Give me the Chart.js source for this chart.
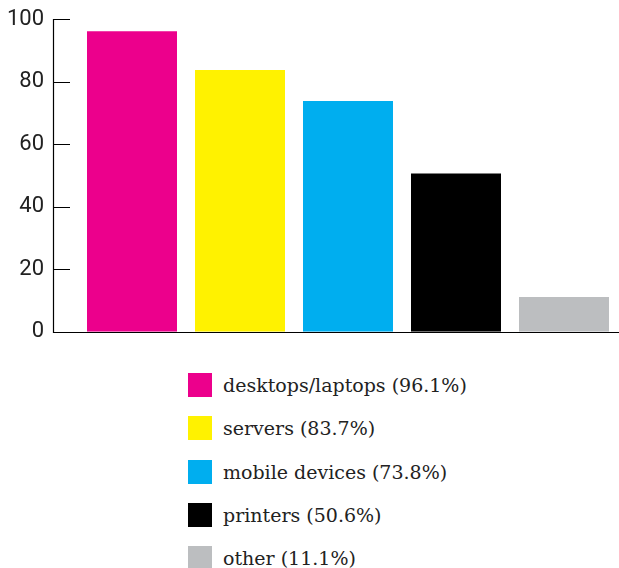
<!DOCTYPE html>
<html>
<head>
<meta charset="utf-8">
<script src="https://cdn.jsdelivr.net/npm/chart.js@4"></script>
<style>
  body { margin: 0; background: #fff; }
  #wrap { position: relative; width: 619px; height: 347px; }
  #legend { list-style: none; margin: 0; padding: 0; position: absolute; left: 188px; top: 373px; }
  #legend li { display: flex; align-items: center; height: 24px; margin-bottom: 19.3px;
    font-family: "DejaVu Serif", serif; font-size: 19px; color: #222; }
  #legend span.box { width: 24px; height: 24px; margin-right: 11px; flex: none; }
</style>
</head>
<body>
<div id="wrap"><canvas id="myChart"></canvas></div>
<ul id="legend"></ul>
<script>
const categories = ["desktops/laptops", "servers", "mobile devices", "printers", "other"];
const values = [96.1, 83.7, 73.8, 50.6, 11.1];
const colors = ["#ec008c", "#fff200", "#00aeef", "#000000", "#bcbec0"];
const yTicks = [0, 20, 40, 60, 80, 100];

// axis lines with ticks pointing inward, like the original
const axisLines = {
  id: "axisLines",
  afterDraw(chart) {
    const ctx = chart.ctx;
    const y = chart.scales.y;
    const x0 = 53.5;
    const yb = Math.round(y.getPixelForValue(0)) + 0.5;
    ctx.save();
    ctx.strokeStyle = "#000";
    ctx.lineWidth = 1.2;
    ctx.beginPath();
    ctx.moveTo(x0, y.getPixelForValue(100));
    ctx.lineTo(x0, yb);
    ctx.lineTo(619, yb);
    yTicks.forEach((t) => {
      if (t === 0) return;
      const py = Math.round(y.getPixelForValue(t)) + 0.5;
      ctx.moveTo(x0, py);
      ctx.lineTo(70, py);
    });
    ctx.stroke();
    ctx.restore();
  },
};

new Chart(document.getElementById("myChart"), {
  type: "bar",
  data: {
    labels: categories,
    datasets: [
      {
        data: values,
        backgroundColor: colors,
        barPercentage: 90 / 108,
        categoryPercentage: 1,
      },
    ],
  },
  options: {
    responsive: true,
    maintainAspectRatio: false,
    animation: false,
    layout: { padding: { top: 19, bottom: 11, right: 1 } },
    plugins: { legend: { display: false }, tooltip: { enabled: false } },
    scales: {
      x: { display: false },
      y: {
        min: 0,
        max: 100,
        weight: 1,
        afterFit(scale) { scale.width = 46; },
        afterBuildTicks(scale) { scale.ticks = yTicks.map((v) => ({ value: v })); },
        grid: { display: false, drawTicks: false, tickLength: 0 },
        border: { display: false },
        ticks: {
          padding: 2,
          color: "#222",
          font: { family: "Roboto", size: 22, weight: 400 },
        },
      },
      // empty spacer axis between the labels and the first bar
      gap: {
        position: "left",
        weight: 0,
        afterFit(scale) { scale.width = 32; },
        grid: { display: false },
        border: { display: false },
        ticks: { display: false },
      },
    },
  },
  plugins: [axisLines],
});

const legend = document.getElementById("legend");
categories.forEach((c, i) => {
  const li = document.createElement("li");
  li.innerHTML = '<span class="box" style="background:' + colors[i] + '"></span>' +
    c + " (" + values[i] + "%)";
  legend.appendChild(li);
});
</script>
</body>
</html>
